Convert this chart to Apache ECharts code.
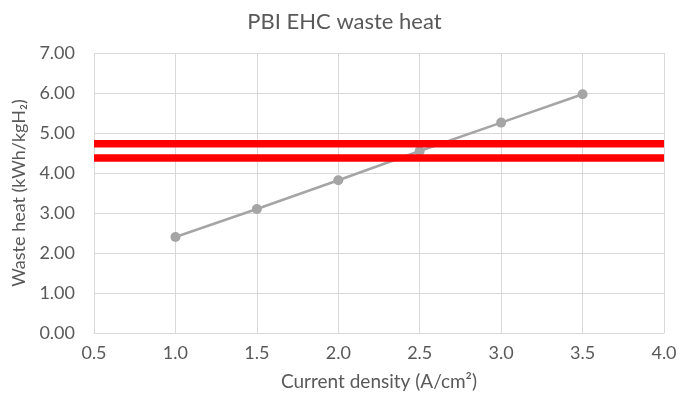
<!DOCTYPE html>
<html><head><meta charset="utf-8">
<script src="https://cdn.jsdelivr.net/npm/echarts@6/dist/echarts.min.js"></script>
<style>html,body{margin:0;padding:0;background:#fff}#c{width:689px;height:397px}</style>
</head><body><div id="c"></div>
<script>
const xValues = [1.0, 1.5, 2.0, 2.5, 3.0, 3.5];
const wasteHeat = [2.40, 3.10, 3.82, 4.55, 5.26, 5.97];
const redLevels = [4.73, 4.375];
const xTicks = [0.5, 1.0, 1.5, 2.0, 2.5, 3.0, 3.5, 4.0];
const yTicks = [0, 1, 2, 3, 4, 5, 6, 7];

const font = 'Lato, "Open Sans", sans-serif';
const chart = echarts.init(document.getElementById('c'));
chart.setOption({
  animation: false,
  title: { text: 'PBI EHC waste heat', left: 'center', top: 6,
    textStyle: { fontFamily: font, fontSize: 22, fontWeight: 'normal', color: '#595959' } },
  grid: { left: 94, right: 25, top: 53, bottom: 64 },
  xAxis: {
    type: 'value', min: xTicks[0], max: xTicks[xTicks.length-1], interval: 0.5,
    name: 'Current density (A/cm²)', nameLocation: 'middle', nameGap: 39,
    nameTextStyle: { fontFamily: font, fontSize: 19, color: '#595959' },
    axisLine: { show: true, lineStyle: { color: '#D9D9D9' } },
    axisTick: { show: false },
    axisLabel: { fontFamily: font, fontSize: 18, color: '#595959', margin: 11, formatter: v => v.toFixed(1) },
    splitLine: { show: true, lineStyle: { color: '#D9D9D9' } }
  },
  yAxis: {
    type: 'value', min: yTicks[0], max: yTicks[yTicks.length-1], interval: 1,
    name: 'Waste heat (kWh/kgH₂)', nameLocation: 'middle', nameGap: 63,
    nameTextStyle: { fontFamily: font, fontSize: 18, color: '#595959' },
    axisLine: { show: false }, axisTick: { show: false },
    axisLabel: { fontFamily: font, fontSize: 18, color: '#595959', margin: 19, formatter: v => v.toFixed(2) },
    splitLine: { show: true, lineStyle: { color: '#D9D9D9' } }
  },
  series: [
    { type: 'line', data: xValues.map((x, i) => [x, wasteHeat[i]]),
      symbol: 'circle', symbolSize: 10, showAllSymbol: true,
      lineStyle: { color: '#A5A5A5', width: 2.5 }, itemStyle: { color: '#A5A5A5' } },
    ...redLevels.map(v => ({
      type: 'line', data: [[xTicks[0], v], [xTicks[xTicks.length-1], v]],
      symbol: 'none', lineStyle: { color: '#FF0000', width: 7.5, cap: 'butt' }, z: 5
    }))
  ]
});
</script></body></html>
